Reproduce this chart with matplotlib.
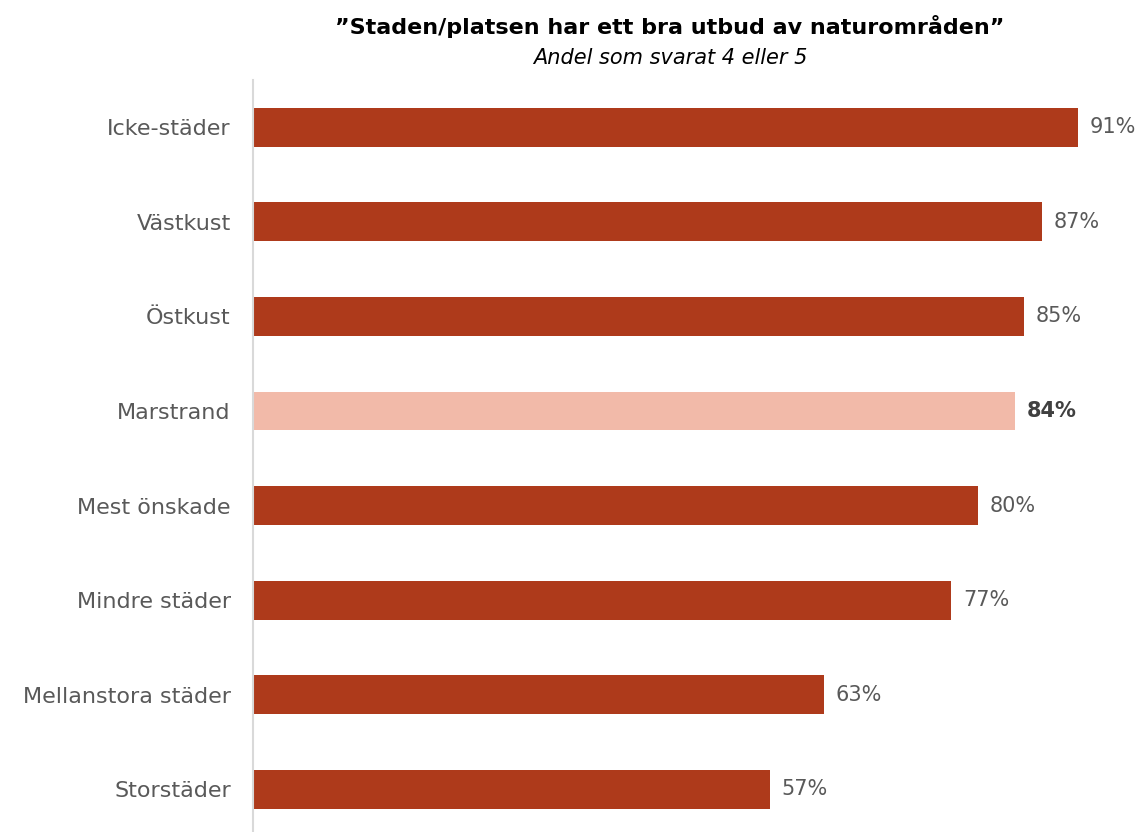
import matplotlib
matplotlib.use("Agg")
import matplotlib.pyplot as plt

# data
categories = ["Icke-städer", "Västkust", "Östkust", "Marstrand",
              "Mest önskade", "Mindre städer", "Mellanstora städer", "Storstäder"]
values = [91, 87, 85, 84, 80, 77, 63, 57]
highlight = "Marstrand"

dark = "#AE3A1B"
light = "#F2BAA9"
text_col = "#595959"

fig = plt.figure(figsize=(11.43, 8.32), dpi=100)
ax = fig.add_axes([253 / 1143, 0, 1 - 253 / 1143, 1 - 80 / 832])

pos = list(range(len(categories)))
colors = [light if c == highlight else dark for c in categories]
ax.barh(pos, values, height=0.41, color=colors)

ax.set_xlim(0, (1143 - 253) / 9.066)
ax.set_ylim(7.45, -0.5)

# value labels
for p, v, c in zip(pos, values, categories):
    if c == highlight:
        ax.text(v + 1.3, p, f"{v}%", va="center", ha="left", fontsize=15,
                color="#404040", fontweight="bold")
    else:
        ax.text(v + 1.3, p, f"{v}%", va="center", ha="left", fontsize=15,
                color=text_col)

ax.set_yticks(pos)
ax.set_yticklabels(categories, fontsize=16, color=text_col)
ax.tick_params(axis="y", length=0, pad=16)
ax.set_xticks([])

for s in ["top", "right", "bottom"]:
    ax.spines[s].set_visible(False)
ax.spines["left"].set_color("#D9D9D9")
ax.spines["left"].set_linewidth(1.5)

fig.text(0.586, 1 - 27 / 832, "\u201dStaden/platsen har ett bra utbud av naturområden\u201d",
         ha="center", va="center", fontsize=16, fontweight="bold", color="black")
fig.text(0.586, 1 - 58 / 832, "Andel som svarat 4 eller 5",
         ha="center", va="center", fontsize=15, style="italic", color="black")

fig.savefig("out.png", dpi=100)
